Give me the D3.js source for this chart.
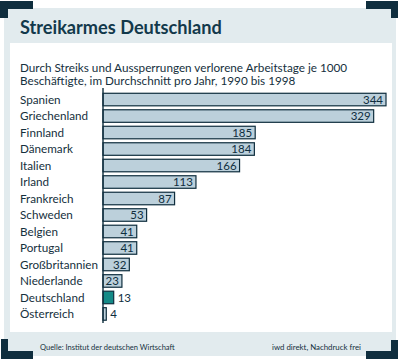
<!DOCTYPE html>
<html><head><meta charset="utf-8">
<script src="https://cdn.jsdelivr.net/npm/d3@7"></script>
<style>html,body{margin:0;padding:0;background:#fff;}svg{display:block;}</style>
</head><body>
<script>
const categories = ["Spanien","Griechenland","Finnland","Dänemark","Italien","Irland","Frankreich","Schweden","Belgien","Portugal","Großbritannien","Niederlande","Deutschland","Österreich"];
const values = [344,329,185,184,166,113,87,53,41,41,32,23,13,4];
const highlight = "Deutschland";
const title = "Streikarmes Deutschland";
const subtitle = ["Durch Streiks und Aussperrungen verlorene Arbeitstage je 1000","Beschäftigte, im Durchschnitt pro Jahr, 1990 bis 1998"];
const source = "Quelle: Institut der deutschen Wirtschaft";
const credit = "iwd direkt, Nachdruck frei";

const W = 400, H = 360;
const dark = "#0f2e3e", light = "#e2ebee", barFill = "#bcd0db", hiFill = "#148a87", textCol = "#15303d";
const FONT = "Lato, 'Noto Sans', sans-serif";

const svg = d3.select("body").append("svg").attr("width", W).attr("height", H);

// frame
svg.append("rect").attr("x",4).attr("y",8).attr("width",392).attr("height",348).attr("fill",light);
svg.append("rect").attr("x",10).attr("y",43).attr("width",382).attr("height",289).attr("fill","#fff");
// corner brackets
const br = svg.append("g").attr("fill", dark);
[[0,1,33,8],[0,1,8,17],[366,1,32,8],[391,1,7,17],[1,339,7,20],[1,351,32,8],[366,351,31,8],[391,340,7,19]]
  .forEach(r=>br.append("rect").attr("x",r[0]).attr("y",r[1]).attr("width",r[2]).attr("height",r[3]));

function fit(sel, target){
  const w = sel.node().getComputedTextLength();
  const fs = parseFloat(sel.attr("font-size"));
  sel.attr("font-size", (fs*target/w).toFixed(2));
}

const t = svg.append("text").attr("x",20).attr("y",34).attr("font-family",FONT).attr("font-weight","bold")
  .attr("font-size",18).attr("fill","#12394b").text(title);
fit(t, 202);

const st = svg.append("g").attr("font-family",FONT).attr("fill",textCol);
const s1 = st.append("text").attr("x",20).attr("y",72).attr("font-size",12).text(subtitle[0]);
fit(s1, 327);
st.append("text").attr("x",20).attr("y",85).attr("font-size",s1.attr("font-size")).text(subtitle[1]);

// scales
const x = d3.scaleLinear().domain([0, 344]).range([103, 386]);
const y = d3.scaleBand().domain(categories).range([91.3, 322.2]).paddingInner(0.24).paddingOuter(0.12);

const g = svg.append("g");
g.selectAll("rect.bar").data(categories).join("rect").attr("class","bar")
  .attr("x", x(0)).attr("y", d=>y(d))
  .attr("width", (d,i)=>x(values[i])-x(0)).attr("height", y.bandwidth())
  .attr("fill", d=>d===highlight?hiFill:barFill)
  .attr("stroke", dark).attr("stroke-width", 1.2);

// axis line
const axis = d3.axisLeft(y).tickSize(0).tickFormat("");
const ax = svg.append("g").attr("transform",`translate(${x(0)},0)`).call(axis);
ax.select(".domain").attr("stroke",dark).attr("stroke-width",1.4).attr("d","M0,88V323");

// category labels
const labs = svg.append("g").attr("font-family",FONT).attr("fill",textCol);
const lab = labs.selectAll("text").data(categories).join("text")
  .attr("x",20).attr("y", d=>y(d)+y.bandwidth()/2).attr("dy","0.36em").attr("font-size",11).text(d=>d);
const gb = lab.filter(d=>d==="Großbritannien");
const fsL = 11*78/gb.node().getComputedTextLength();
lab.attr("font-size", fsL.toFixed(2));

// value labels
svg.append("g").attr("font-family",FONT).attr("fill",dark).attr("font-size",11.5)
  .selectAll("text").data(categories).join("text")
  .attr("y", d=>y(d)+y.bandwidth()/2).attr("dy","0.36em")
  .attr("x", (d,i)=> values[i] >= 20 ? x(values[i])-3 : x(values[i])+4)
  .attr("text-anchor", (d,i)=> values[i] >= 20 ? "end" : "start")
  .text((d,i)=>values[i]);

// footer
const f1 = svg.append("text").attr("x",40).attr("y",350).attr("font-family",FONT).attr("font-size",8).attr("fill",textCol).text(source);
fit(f1, 135);
const f2 = svg.append("text").attr("x",361).attr("y",350).attr("text-anchor","end").attr("font-family",FONT).attr("font-size",8).attr("fill",textCol).text(credit);
fit(f2, 89);
</script>
</body></html>
